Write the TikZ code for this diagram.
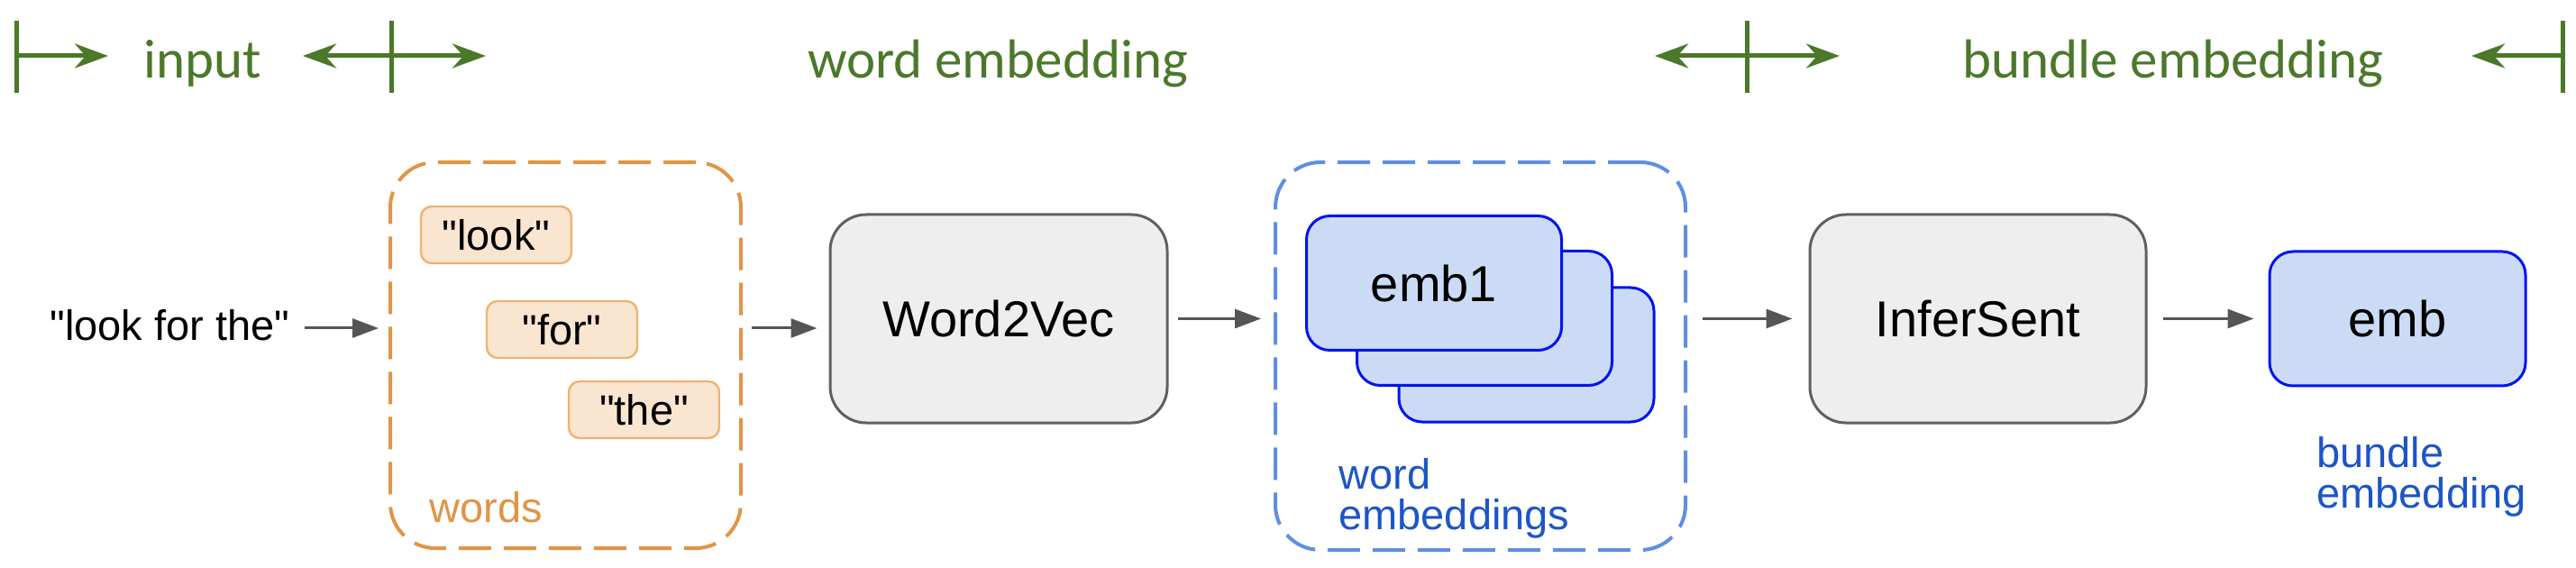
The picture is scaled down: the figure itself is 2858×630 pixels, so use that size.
\documentclass[tikz,border=0pt]{standalone}
\usepackage{fontspec}
\setmainfont{Liberation Sans}
\newfontfamily\hdfont{Carlito}
\font\qfont="Liberation Sans" at 23.5pt
\usetikzlibrary{arrows.meta,calc}
\definecolor{hdgreen}{RGB}{75,120,42}
\definecolor{grpor}{RGB}{225,148,70}
\definecolor{wfill}{RGB}{250,229,209}
\definecolor{wdraw}{RGB}{240,178,110}
\definecolor{grpbl}{RGB}{96,142,226}
\definecolor{efill}{RGB}{204,219,245}
\definecolor{edraw}{RGB}{0,20,240}
\definecolor{lblbl}{RGB}{28,85,200}
\definecolor{gfill}{RGB}{238,238,238}
\definecolor{gdraw}{RGB}{96,96,96}
\definecolor{conncol}{RGB}{85,85,85}
\tikzset{
  hdtext/.style={text=hdgreen, font=\hdfont\fontsize{30.5}{36}\selectfont, anchor=base, inner sep=0pt},
  hdbar/.style={draw=hdgreen, line width=2.5pt},
  hdarrow/.style={draw=hdgreen, line width=2.5pt, -{Stealth[length=18.5pt,width=13.5pt,inset=6pt]}},
  conn/.style={draw=conncol, line width=1.5pt, -{Triangle[length=14.5pt,width=10.5pt]}},
  plain/.style={font=\qfont, inner sep=0pt},
  wgroup/.style={draw=grpor, dash pattern=on 18pt off 7pt, line width=2pt, rounded corners=25pt},
  egroup/.style={draw=grpbl, dash pattern=on 18pt off 7pt, line width=2pt, rounded corners=25pt},
  wordbox/.style={draw=wdraw, fill=wfill, line width=1.2pt, rounded corners=6pt,
    minimum width=83.5pt, minimum height=31.5pt, inner sep=0pt, font=\qfont},
  procbox/.style={draw=gdraw, fill=gfill, line width=1.5pt, rounded corners=20pt,
    minimum height=115.5pt, inner sep=0pt, font=\fontsize{28}{32}\selectfont},
  embbox/.style={draw=edraw, fill=efill, line width=1.5pt, rounded corners=13pt,
    minimum width=141.5pt, minimum height=74.5pt, inner sep=0pt, font=\fontsize{28}{32}\selectfont},
  grplabel/.style={font=\fontsize{23.5}{22.5}\selectfont, inner sep=0pt, align=left, anchor=base west}
}
\begin{document}
\begin{tikzpicture}[x=0.5pt,y=-0.5pt]
\useasboundingbox (0,0) rectangle (2858,630);
% ---------- header ----------
\coordinate (b1) at (18,62);
\coordinate (b2) at (434,62);
\coordinate (b3) at (1938,62);
\coordinate (b4) at (2843,62);
\coordinate (t1) at (120,62);
\coordinate (t2) at (336,62);
\coordinate (t3) at (539,62);
\coordinate (t4) at (1836,62);
\coordinate (t5) at (2041,62);
\coordinate (t6) at (2742,62);
\draw[hdbar] (18,23) -- (18,103);
\draw[hdbar] (434,23) -- (434,103);
\draw[hdbar] (1938,23) -- (1938,103);
\draw[hdbar] (2843,23) -- (2843,103);
\draw[hdarrow] (b1) -- (t1);
\draw[hdarrow] (b2) -- (t2);
\draw[hdarrow] (b2) -- (t3);
\draw[hdarrow] (b3) -- (t4);
\draw[hdarrow] (b3) -- (t5);
\draw[hdarrow] (b4) -- (t6);
\node[hdtext] (hinput) at (225,87) {input};
\node[hdtext] (hword) at (1107,87) {word embedding};
\node[hdtext] (hbundle) at (2411,87) {bundle embedding};
% ---------- main row ----------
\coordinate (r1) at (0,364);
\node[plain, anchor=base west] (txt) at (55,378) {"look for the"};
\node[wgroup, minimum width=194.5pt, minimum height=214pt] (words) at (627.5,394) {};
\node[wordbox] (wlook) at (550.5,260.5) {"look"};
\node[wordbox] (wfor) at (623.5,365.5) {"for"};
\node[wordbox] (wthe) at (714.5,454.5) {"the"};
\node[grplabel, text=grpor] (wlabel) at (476,579) {words};
\node[procbox, minimum width=187pt] (w2v) at (1108,353.5) {Word2Vec};
\node[egroup, minimum width=227.5pt, minimum height=215pt] (egrp) at (1642.5,395) {};
\node[embbox] (emb3) at (1693.5,393.5) {};
\node[embbox] (emb2) at (1647,353) {};
\node[embbox] (emb1) at (1591,314) {emb1};
\node[grplabel, text=lblbl] (elabel) at (1485,587) {word\\embeddings};
\node[procbox, minimum width=186.5pt] (infer) at (2194.5,353.5) {InferSent};
\node[embbox, minimum width=142pt] (emb) at (2660,353.5) {emb};
\node[grplabel, text=lblbl] (blabel) at (2570,563) {bundle\\embedding};
% ---------- connectors ----------
\draw[conn] ([xshift=8pt]txt.east |- r1) -- ([xshift=-5.5pt]words.west |- r1);
\draw[conn] ([xshift=5pt]words.east |- r1) -- ([xshift=-6.5pt]w2v.west |- r1);
\draw[conn] ([xshift=5pt]w2v.east) -- ([xshift=-7pt]w2v.east -| egrp.west);
\draw[conn] ([xshift=8.5pt]egrp.east |- infer.west) -- ([xshift=-9pt]infer.west);
\draw[conn] ([xshift=8.5pt]infer.east) -- ([xshift=-8pt]infer.east -| emb.west);
\end{tikzpicture}
\end{document}
